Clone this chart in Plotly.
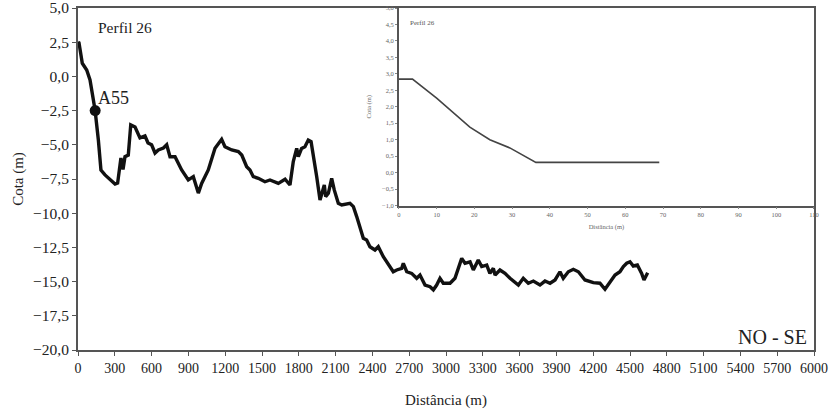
import plotly.graph_objects as go

# perfil principal (distância em m, cota em m)
dist = [0, 8, 35, 71, 98, 139, 166, 187, 220, 302, 323, 350, 367, 383, 410, 430,
        465, 505, 546, 571, 600, 628, 655, 696, 723, 750, 791, 845, 899, 940,
        981, 1008, 1062, 1117, 1171, 1198, 1253, 1307, 1335, 1375, 1402, 1429,
        1470, 1524, 1565, 1633, 1688, 1728, 1755, 1783, 1796, 1823, 1850, 1877,
        1900, 1927, 1946, 1973, 1992, 2008, 2019, 2041, 2068, 2089, 2122, 2150,
        2217, 2245, 2272, 2299, 2326, 2353, 2380, 2421, 2448, 2489, 2530, 2570,
        2598, 2639, 2652, 2680, 2720, 2761, 2788, 2829, 2870, 2897, 2924, 2951,
        2978, 3033, 3073, 3100, 3128, 3155, 3196, 3223, 3263, 3291, 3332, 3358,
        3386, 3400, 3440, 3481, 3522, 3590, 3630, 3671, 3712, 3766, 3807, 3848,
        3889, 3929, 3956, 3997, 4038, 4079, 4133, 4201, 4255, 4296, 4337, 4378,
        4418, 4446, 4473, 4500, 4527, 4560, 4595, 4614, 4644]
cota = [2.5, 2.46, 0.96, 0.47, -0.26, -2.46, -4.65, -6.84, -7.2, -7.87, -7.8,
        -5.96, -6.8, -5.87, -5.75, -3.55, -3.7, -4.5, -4.36, -4.87, -5.0, -5.6,
        -5.38, -5.23, -5.0, -5.87, -5.87, -6.84, -7.57, -7.33, -8.53, -7.82,
        -6.84, -5.26, -4.6, -5.14, -5.38, -5.5, -5.75, -6.6, -6.84, -7.33,
        -7.45, -7.7, -7.57, -7.82, -7.52, -7.94, -6.23, -5.26, -5.87, -5.26,
        -5.14, -4.65, -4.77, -6.11, -7.33, -9.04, -8.43, -7.94, -8.79, -8.55,
        -7.45, -8.3, -9.28, -9.4, -9.28, -9.52, -10.25, -11.1, -11.84, -11.96,
        -12.45, -12.69, -12.45, -13.18, -13.79, -14.28, -14.15, -14.03, -13.66,
        -14.28, -14.4, -14.76, -14.52, -15.25, -15.37, -15.6, -15.25, -14.76,
        -15.12, -15.12, -14.76, -14.03, -13.3, -13.66, -13.55, -14.15, -13.42,
        -13.9, -13.79, -14.4, -14.03, -14.52, -14.15, -14.4, -14.76, -15.25,
        -14.76, -15.12, -14.96, -15.25, -14.96, -15.12, -14.88, -14.28, -14.76,
        -14.28, -14.1, -14.28, -14.88, -15.08, -15.12, -15.56, -15.0, -14.52,
        -14.28, -13.9, -13.66, -13.55, -13.86, -13.79, -14.4, -14.88, -14.35]

ponto_x = [140]
ponto_y = [-2.5]
ponto_nome = ["A55"]

# perfil de praia (detalhe)
dist_praia = [0, 3.6, 10, 14.4, 18.8, 24.1, 29.4, 36.3, 69.0]
cota_praia = [2.84, 2.84, 2.26, 1.81, 1.38, 1.0, 0.75, 0.31, 0.31]

serif = "Liberation Serif"
axcol = "#555555"

fig = go.Figure()
fig.add_trace(go.Scatter(x=dist, y=cota, mode="lines",
                         line=dict(color="#111111", width=3.4),
                         xaxis="x", yaxis="y", showlegend=False))
fig.add_trace(go.Scatter(x=ponto_x, y=ponto_y, mode="markers",
                         marker=dict(color="#111111", size=11),
                         xaxis="x", yaxis="y", showlegend=False))
fig.add_trace(go.Scatter(x=dist_praia, y=cota_praia, mode="lines",
                         line=dict(color="#444444", width=1.6),
                         xaxis="x2", yaxis="y2", showlegend=False))

fig.update_layout(
    width=834, height=416,
    margin=dict(l=78, r=20, t=8, b=66, autoexpand=False),
    paper_bgcolor="white", plot_bgcolor="white",
    separators=",.",
    font=dict(family=serif, size=14, color="#222222"),
    xaxis=dict(domain=[0, 1], range=[0, 6000], tickvals=list(range(0, 6001, 300)),
               showline=True, linecolor=axcol, linewidth=2, mirror=True,
               ticks="outside", ticklen=4, tickcolor=axcol, showgrid=False,
               zeroline=False, tickfont=dict(size=14), automargin=False,
               ticklabeloverflow="allow",
               title=dict(text="Distância (m)", font=dict(size=15), standoff=20)),
    yaxis=dict(domain=[0, 1], range=[-20, 5], dtick=2.5, tick0=0, tickformat=".1f",
               showline=True, linecolor=axcol, linewidth=2, mirror=True,
               ticks="outside", ticklen=4, tickcolor=axcol, showgrid=False,
               zeroline=False, tickfont=dict(size=15.5), automargin=False,
               ticklabeloverflow="allow",
               title=dict(text="Cota (m)", font=dict(size=15), standoff=6)),
    xaxis2=dict(domain=[0.436, 1], anchor="y2", range=[0, 110], dtick=10,
                showline=True, linecolor=axcol, linewidth=1.5, automargin=False,
                ticks="outside", ticklen=2, tickcolor="#888888", showgrid=False,
                zeroline=False, tickfont=dict(size=6.5, color="#666666"),
                title=dict(text="Distância (m)", font=dict(size=6.5, color="#666666"),
                           standoff=7)),
    yaxis2=dict(domain=[0.4225, 1], anchor="x2", range=[-1, 5], dtick=0.5,
                tickformat=".1f", showline=True, linecolor=axcol, linewidth=1.5,
                ticks="outside", ticklen=2, tickcolor="#888888", showgrid=False,
                zeroline=False, tickfont=dict(size=6.5, color="#666666"),
                automargin=False, ticklabeloverflow="allow",
                title=dict(text="Cota (m)", font=dict(size=6.5, color="#666666"),
                           standoff=10)),
    annotations=[
        dict(x=ponto_x[0] + 10, y=ponto_y[0] + 0.9, xref="x", yref="y",
             text=ponto_nome[0], showarrow=False, xanchor="left",
             font=dict(size=18)),
        dict(x=150, y=3.6, xref="x", yref="y", text="Perfil 26",
             showarrow=False, xanchor="left", font=dict(size=15.5)),
        dict(x=0.993, y=0.0, xref="paper", yref="paper", text="NO - SE",
             showarrow=False, xanchor="right", yanchor="bottom",
             font=dict(size=20)),
        dict(x=2.4, y=4.55, xref="x2", yref="y2", text="Perfil 26",
             showarrow=False, xanchor="left", font=dict(size=7, color="#555555")),
    ],
)

# the page's default body margin would shift the chart by 8px
fig.write_html("out.html", config={"displayModeBar": False},
               post_script="document.body.style.margin='0';")
